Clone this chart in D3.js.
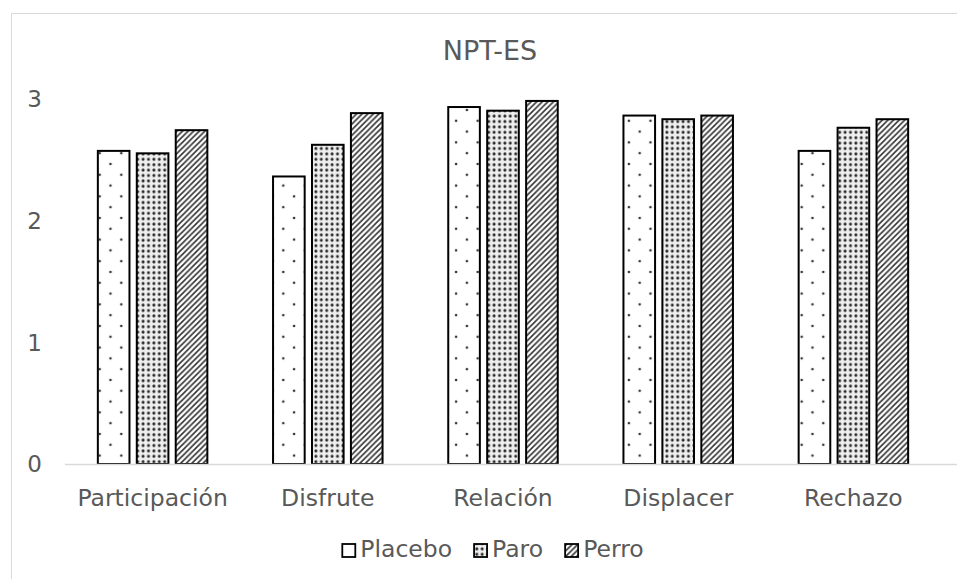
<!DOCTYPE html>
<html><head><meta charset="utf-8">
<script src="https://cdn.jsdelivr.net/npm/d3@7"></script>
<style>body{margin:0;background:#fff}svg{display:block}</style>
</head><body>
<svg id="c" width="957" height="579"></svg>
<script>
const categories = ["Participación","Disfrute","Relación","Displacer","Rechazo"];
const seriesNames = ["Placebo","Paro","Perro"];
const placebo = [2.57, 2.36, 2.93, 2.86, 2.57];
const paro    = [2.55, 2.62, 2.90, 2.83, 2.76];
const perro   = [2.74, 2.88, 2.98, 2.86, 2.83];
const yTicks = [0, 1, 2, 3];
const title = "NPT-ES";

const values = [placebo, paro, perro];
const svg = d3.select("#c");
const W = 957, H = 579;
const textColor = "#595959";
const font = "DejaVu Sans, Verdana, sans-serif";

// patterns
const defs = svg.append("defs");
const p1 = defs.append("pattern").attr("id","pat0").attr("patternUnits","userSpaceOnUse")
  .attr("width",21.6).attr("height",21.6).attr("x",97.7).attr("y",0);
p1.append("rect").attr("width",21.6).attr("height",21.6).attr("fill","#fff");
[[2,2],[12.8,12.8]].forEach(([cx,cy])=>p1.append("circle").attr("cx",cx).attr("cy",cy).attr("r",1.3).attr("fill","#333"));

const p2 = defs.append("pattern").attr("id","pat1").attr("patternUnits","userSpaceOnUse")
  .attr("width",5.4).attr("height",5.4);
p2.append("rect").attr("width",5.4).attr("height",5.4).attr("fill","#eeeeee");
p2.append("circle").attr("cx",2.7).attr("cy",2.7).attr("r",1.5).attr("fill","#2a2a2a");

const p3 = defs.append("pattern").attr("id","pat2").attr("patternUnits","userSpaceOnUse")
  .attr("width",5.6).attr("height",5.6);
p3.append("rect").attr("width",5.6).attr("height",5.6).attr("fill","#fff");
p3.append("path").attr("d","M-1.4,1.4 L1.4,-1.4 M0,5.6 L5.6,0 M4.2,7 L7,4.2")
  .attr("stroke","#333").attr("stroke-width",1.6);

// chart border
svg.append("rect").attr("x",11.5).attr("y",13.5).attr("width",980).attr("height",600)
  .attr("fill","none").attr("stroke","#d9d9d9").attr("stroke-width",1);

// title
svg.append("text").attr("x",490).attr("y",60).attr("text-anchor","middle")
  .attr("font-family",font).attr("font-size",27).attr("fill",textColor).text(title);

const x0 = d3.scaleBand().domain(categories).range([65, 941]).paddingInner(0.375).paddingOuter(0.1875);
const x1 = d3.scaleBand().domain(seriesNames).range([0, x0.bandwidth()]).paddingInner(0.188).paddingOuter(0);
const y = d3.scaleLinear().domain([0, 3]).range([464, 98.5]);

// y tick labels
svg.append("g").selectAll("text").data(yTicks).join("text")
  .attr("x",42).attr("y",d=>y(d)+8.4).attr("text-anchor","end")
  .attr("font-family",font).attr("font-size",23).attr("fill",textColor).text(d=>d);

// bars
const g = svg.append("g");
seriesNames.forEach((s,si)=>{
  g.append("g").selectAll("rect").data(categories.map((c,i)=>({c, v: values[si][i]}))).join("rect")
    .attr("x",d=>x0(d.c)+x1(s)).attr("width",x1.bandwidth())
    .attr("y",d=>y(d.v)).attr("height",d=>y(0)-y(d.v))
    .attr("fill",`url(#pat${si})`).attr("stroke","#000").attr("stroke-width",2);
});

// x axis line
svg.append("line").attr("x1",x0.range()[0]).attr("x2",W).attr("y1",y(0)+0.5).attr("y2",y(0)+0.5)
  .attr("stroke","#d9d9d9").attr("stroke-width",1.5);

// category labels
svg.append("g").selectAll("text").data(categories).join("text")
  .attr("x",d=>x0(d)+x0.bandwidth()/2).attr("y",505.5).attr("text-anchor","middle")
  .attr("font-family",font).attr("font-size",23.5).attr("fill",textColor).text(d=>d);

// legend
const lg = svg.append("g");
let cx = 0;
seriesNames.forEach((s,si)=>{
  const it = lg.append("g");
  it.append("rect").attr("x",0).attr("y",-13).attr("width",13).attr("height",13)
    .attr("fill", si === 0 ? "#fff" : `url(#pat${si})`).attr("stroke","#000").attr("stroke-width",1.8);
  const t = it.append("text").attr("x",18).attr("y",0).attr("font-family",font)
    .attr("font-size",23.5).attr("fill",textColor).text(s);
  const w = 18 + t.node().getComputedTextLength();
  it.attr("transform",`translate(${cx},557)`);
  cx += w + 22;
});
const totalW = cx - 22;
lg.attr("transform",`translate(${493 - totalW/2},0)`);
</script>
</body></html>
